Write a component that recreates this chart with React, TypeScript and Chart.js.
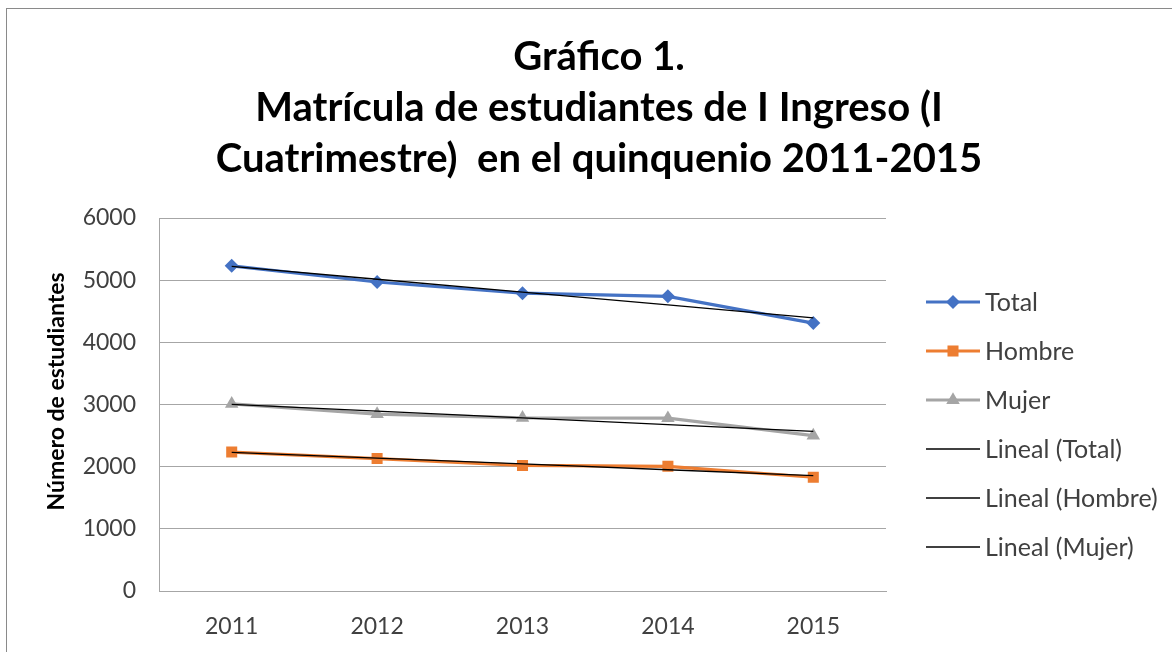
import React, { useEffect, useRef } from "react";
import { Chart, registerables } from "chart.js";

Chart.register(...registerables);

// ---------- data ----------
const years = ["2011", "2012", "2013", "2014", "2015"];
const totalValues = [5230, 4970, 4790, 4740, 4310];
const hombreValues = [2235, 2130, 2020, 2005, 1830];
const mujerValues = [3010, 2845, 2785, 2780, 2500];
const seriesNames = ["Total", "Hombre", "Mujer"];
const trendNames = ["Lineal (Total)", "Lineal (Hombre)", "Lineal (Mujer)"];
const titleLines = [
  "Gráfico 1.",
  "Matrícula de estudiantes de I Ingreso (I",
  "Cuatrimestre)  en el quinquenio 2011-2015",
];
const yAxisTitle = "Número de estudiantes";
const yMin = 0;
const yMax = 6000;
const yStep = 1000;

// ---------- styles ----------
const FONT = "Lato, 'Open Sans', sans-serif";
const seriesColors = ["#4472C4", "#ED7D31", "#A5A5A5"];
const seriesMarkers = ["rectRot", "rect", "triangle"];
const markerRadius = [7, 7.8, 7.8];
const trendColor = "#000000";
const gridColor = "#a6a6a6";
const textColor = "#404040";

const CANVAS_W = 1190;
const CANVAS_H = 643;

// least squares linear trend (Excel "Lineal" trendline)
function linearTrend(values: number[]): number[] {
  const n = values.length;
  const xs = values.map((_, i) => i + 1);
  const mx = xs.reduce((a, b) => a + b, 0) / n;
  const my = values.reduce((a, b) => a + b, 0) / n;
  let num = 0;
  let den = 0;
  xs.forEach((x, i) => {
    num += (x - mx) * (values[i] - my);
    den += (x - mx) * (x - mx);
  });
  const slope = num / den;
  const intercept = my - slope * mx;
  return xs.map((x) => intercept + slope * x);
}

function drawMarker(ctx: CanvasRenderingContext2D, style: string, x: number, y: number, r: number) {
  ctx.beginPath();
  if (style === "rectRot") {
    ctx.moveTo(x - r, y);
    ctx.lineTo(x, y - r);
    ctx.lineTo(x + r, y);
    ctx.lineTo(x, y + r);
  } else if (style === "rect") {
    const s = Math.SQRT1_2 * r;
    ctx.rect(x - s, y - s, 2 * s, 2 * s);
  } else if (style === "triangle") {
    ctx.moveTo(x, y - r);
    ctx.lineTo(x + Math.sin((2 * Math.PI) / 3) * r, y - Math.cos((2 * Math.PI) / 3) * r);
    ctx.lineTo(x + Math.sin((4 * Math.PI) / 3) * r, y - Math.cos((4 * Math.PI) / 3) * r);
  }
  ctx.closePath();
  ctx.fill();
}

// custom legend placed to the right of the plot, like the Excel one
const LEGEND = {
  lineX0: 922,
  lineX1: 976,
  textX: 981,
  firstY: 293,
  stepY: 49,
  fontSize: 25,
};

const sideLegend = {
  id: "sideLegend",
  afterDraw(chart: any) {
    const ctx: CanvasRenderingContext2D = chart.ctx;
    const ds = chart.data.datasets;
    const entries = [...ds].sort((a: any, b: any) => a.legendIndex - b.legendIndex);
    ctx.save();
    ctx.font = `${LEGEND.fontSize}px ${FONT}`;
    ctx.textBaseline = "middle";
    ctx.textAlign = "left";
    entries.forEach((d: any, i: number) => {
      const y = LEGEND.firstY + i * LEGEND.stepY;
      ctx.strokeStyle = d.borderColor;
      ctx.lineWidth = d.borderWidth;
      ctx.beginPath();
      ctx.moveTo(LEGEND.lineX0, y);
      ctx.lineTo(LEGEND.lineX1, y);
      ctx.stroke();
      if (d.pointRadius > 0) {
        ctx.fillStyle = d.pointBackgroundColor;
        drawMarker(ctx, d.pointStyle, (LEGEND.lineX0 + LEGEND.lineX1) / 2, y, d.pointRadius);
      }
      ctx.fillStyle = textColor;
      ctx.fillText(d.label, LEGEND.textX, y + 1);
    });
    ctx.restore();
  },
};

// rotated y-axis title (Excel places it slightly above the plot centre)
const Y_TITLE = { x: 53, shiftUp: 13, fontSize: 23 };
const yTitlePlugin = {
  id: "yTitle",
  afterDraw(chart: any) {
    const ctx: CanvasRenderingContext2D = chart.ctx;
    const area = chart.chartArea;
    const cy = (area.top + area.bottom) / 2 - Y_TITLE.shiftUp;
    ctx.save();
    ctx.translate(Y_TITLE.x, cy);
    ctx.rotate(-Math.PI / 2);
    ctx.font = `bold ${Y_TITLE.fontSize}px ${FONT}`;
    ctx.fillStyle = "#000000";
    ctx.textAlign = "center";
    ctx.textBaseline = "middle";
    ctx.fillText(yAxisTitle, 0, 0);
    ctx.restore();
  },
};

export default function App() {
  const canvasRef = useRef<HTMLCanvasElement | null>(null);

  useEffect(() => {
    if (!canvasRef.current) return;
    const seriesData = [totalValues, hombreValues, mujerValues];
    const seriesDatasets = seriesData.map((vals, i) => ({
      label: seriesNames[i],
      data: vals,
      borderColor: seriesColors[i],
      backgroundColor: seriesColors[i],
      pointBackgroundColor: seriesColors[i],
      pointBorderColor: seriesColors[i],
      pointStyle: seriesMarkers[i],
      pointRadius: markerRadius[i],
      pointBorderWidth: 0,
      borderWidth: 3.2,
      tension: 0,
      order: 2,
      legendIndex: i,
    }));
    const trendDatasets = seriesData.map((vals, i) => ({
      label: trendNames[i],
      data: linearTrend(vals),
      borderColor: trendColor,
      backgroundColor: trendColor,
      pointRadius: 0,
      borderWidth: 1.3,
      tension: 0,
      order: 1,
      legendIndex: 3 + i,
    }));

    const chart = new Chart(canvasRef.current, {
      type: "line",
      data: {
        labels: years,
        datasets: [...seriesDatasets, ...trendDatasets] as any,
      },
      plugins: [sideLegend, yTitlePlugin],
      options: {
        responsive: false,
        animation: false,
        devicePixelRatio: 1,
        layout: { padding: 0 },
        plugins: {
          legend: { display: false },
          tooltip: { enabled: false },
          title: {
            display: true,
            text: titleLines,
            color: "#000000",
            font: { family: FONT, size: 40, weight: "bold", lineHeight: 1.275 },
            padding: { top: 23, bottom: 33 },
          },
        },
        scales: {
          x: {
            offset: true,
            grid: { display: false, drawTicks: false },
            border: { display: true, color: gridColor, width: 1 },
            ticks: {
              color: textColor,
              font: { family: FONT, size: 23 },
              padding: 22,
              maxRotation: 0,
            },
            afterFit(scale: any) {
              scale.height = 61;
            },
          },
          y: {
            min: yMin,
            max: yMax,
            grid: { color: gridColor, lineWidth: 1, drawTicks: false },
            border: { display: true, color: gridColor, width: 1 },
            ticks: {
              stepSize: yStep,
              color: textColor,
              font: { family: FONT, size: 23 },
              padding: 23,
              callback: (v: any) => String(v),
            },
            afterFit(scale: any) {
              scale.width = 155;
            },
          },
          // empty space on the right that holds the legend
          legendSpace: {
            type: "linear",
            position: "right",
            display: true,
            grid: { display: false, drawTicks: false },
            border: { display: false },
            ticks: { display: false },
            afterFit(scale: any) {
              scale.width = 308;
            },
          },
        } as any,
      },
    });
    return () => chart.destroy();
  }, []);

  return (
    <div
      style={{
        position: "fixed",
        left: 0,
        top: 0,
        width: 1172,
        height: 652,
        overflow: "hidden",
        background: "#ffffff",
      }}
    >
      <div
        style={{
          position: "absolute",
          left: 6,
          top: 8,
          width: 1300,
          height: 800,
          borderLeft: "1px solid #8a8a8a",
          borderTop: "1px solid #8a8a8a",
          boxSizing: "border-box",
        }}
      />
      <canvas
        ref={canvasRef}
        width={CANVAS_W}
        height={CANVAS_H}
        style={{ position: "absolute", left: 4, top: 9, width: CANVAS_W, height: CANVAS_H }}
      />
    </div>
  );
}
